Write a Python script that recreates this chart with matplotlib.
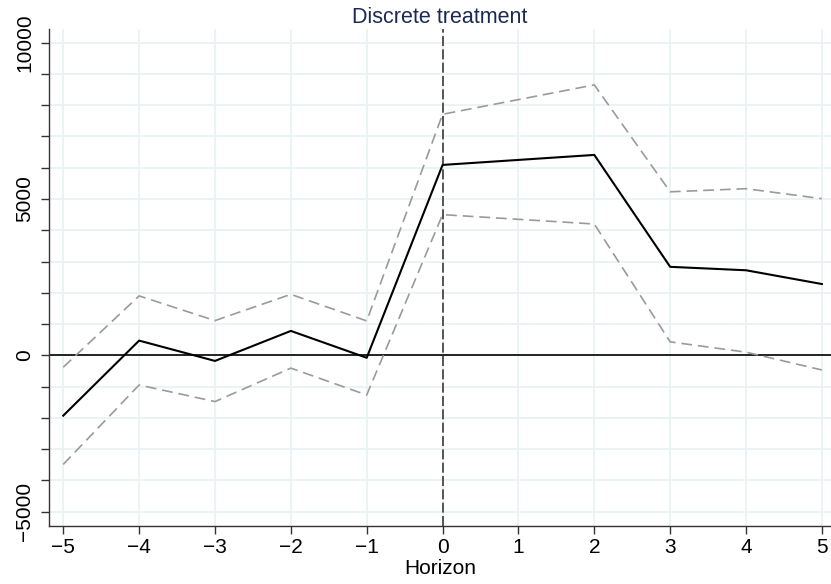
import matplotlib
matplotlib.use("Agg")
import matplotlib.pyplot as plt
from matplotlib.ticker import MultipleLocator

plt.rcParams['font.family'] = ['Liberation Sans', 'DejaVu Sans']

# values
horizon = [-5, -4, -3, -2, -1, 0, 1, 2, 3, 4, 5]
estimate = [-1930, 470, -180, 780, -80, 6090, 6250, 6410, 2830, 2720, 2280]
upper_ci = [-380, 1900, 1110, 1950, 1100, 7710, 8180, 8650, 5230, 5330, 5010]
lower_ci = [-3490, -950, -1480, -410, -1270, 4500, 4350, 4200, 430, 100, -470]

fig = plt.figure(figsize=(8.31, 5.84), dpi=100)
ax = fig.add_axes([49.3 / 831, 58.3 / 584, 1 - 49.3 / 831, (525.7 - 29) / 584])

grid_col = '#eaf2f3'
ax.set_axisbelow(True)
ax.grid(True, which='both', color=grid_col, linewidth=1.3)

ax.axhline(0, color='black', linewidth=1.2, zorder=2)
ax.axvline(0, color='#3a3a3a', linewidth=1.2, dashes=(6, 2), zorder=2)

ax.plot(horizon, upper_ci, color='#9a9a9a', linewidth=1.2, dashes=(6.5, 3.5), zorder=3)
ax.plot(horizon, lower_ci, color='#9a9a9a', linewidth=1.2, dashes=(6.5, 3.5), zorder=3)
ax.plot(horizon, estimate, color='black', linewidth=1.5, zorder=4)

ax.set_xlim(-5.184, 5.12)
ax.set_ylim(-5451, 10438)
ax.set_xticks(horizon)
ax.set_xticklabels([str(h).replace('-', '\u2212') for h in horizon])
ax.set_yticks([-5000, 0, 5000, 10000])
ax.set_yticklabels(['\u22125000', '0', '5000', '10000'], rotation=90, va='center')
ax.yaxis.set_minor_locator(MultipleLocator(1000))

for s in ['top', 'right']:
    ax.spines[s].set_visible(False)
for s in ['left', 'bottom']:
    ax.spines[s].set_color('#333333')
    ax.spines[s].set_linewidth(1.0)

ax.tick_params(axis='both', which='major', length=6, width=1.0, color='#333333', labelsize=15)
ax.tick_params(axis='y', which='minor', length=6, width=1.0, color='#333333')
ax.tick_params(axis='x', pad=3)
ax.tick_params(axis='y', pad=5)

ax.set_xlabel('Horizon', fontsize=15, labelpad=1)
ax.set_title('Discrete treatment', fontsize=15.5, color='#1a2a55', pad=4)

fig.savefig('out.png', dpi=100)
